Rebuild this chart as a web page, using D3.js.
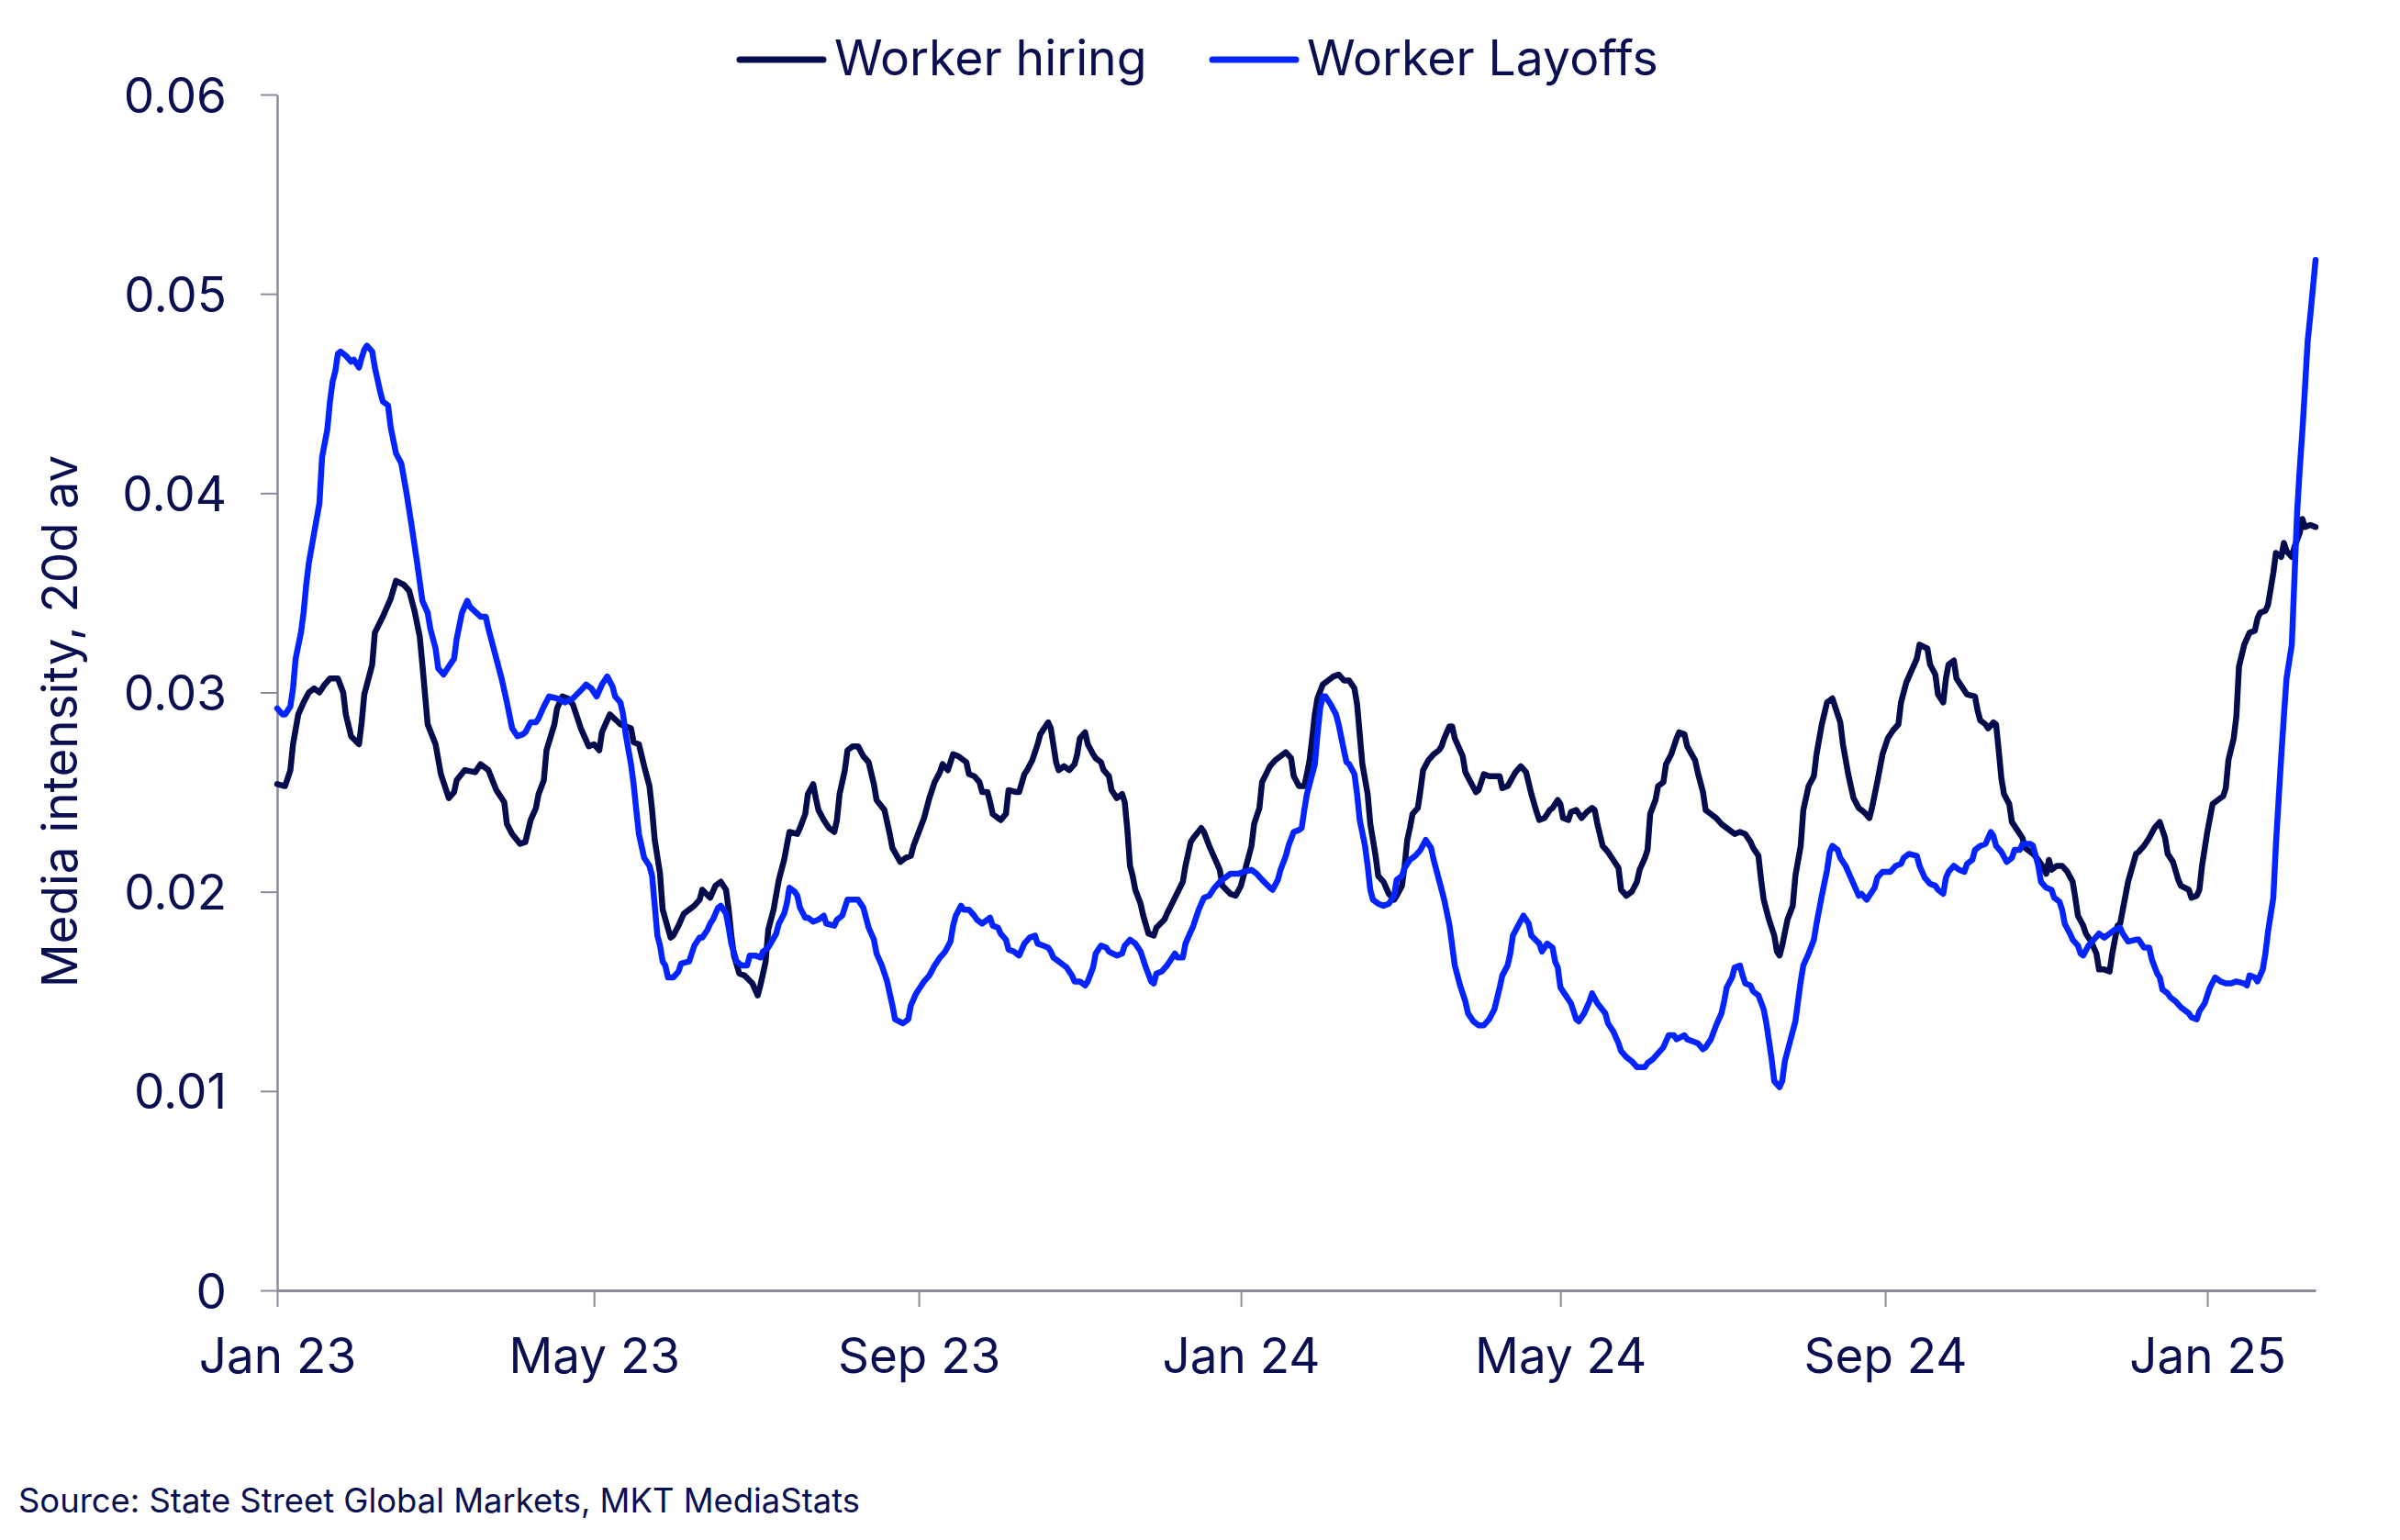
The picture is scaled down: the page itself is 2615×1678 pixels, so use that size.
<!DOCTYPE html>
<html>
<head>
<meta charset="utf-8">
<script src="https://cdn.jsdelivr.net/npm/d3@7"></script>
<style>
  html, body { margin: 0; padding: 0; background: #ffffff; }
  svg { display: block; }
  text { font-family: Inter, "Noto Sans", "DejaVu Sans", sans-serif; }
</style>
</head>
<body>
<svg id="chart" width="2615" height="1678"></svg>
<script>
// ---------------- DATA ----------------
// Dates are stored as day offsets from BASE_DATE (1 Jan 2023).
const BASE_DATE = "2023-01-01";
const seriesNames = ["Worker hiring", "Worker Layoffs"];
const yTicks = [0, 0.01, 0.02, 0.03, 0.04, 0.05, 0.06];
const yTickLabels = ["0", "0.01", "0.02", "0.03", "0.04", "0.05", "0.06"];
const xTickDates = ["2023-01-01", "2023-05-01", "2023-09-01", "2024-01-01", "2024-05-01", "2024-09-01", "2025-01-01"];
const xTickLabels = ["Jan 23", "May 23", "Sep 23", "Jan 24", "May 24", "Sep 24", "Jan 25"];
const yAxisTitle = "Media intensity, 20d av";
const sourceNote = "Source: State Street Global Markets, MKT MediaStats";

const hiringDay = [
  0,3,5,6,8,10,12,14,16,18,
  20,23,25,26,28,31,32,33,36,37,
  40,43,45,48,50,52,54,55,57,60,
  62,65,67,68,71,75,77,80,83,86,
  87,89,92,94,96,98,99,101,102,105,
  106,108,110,112,115,118,120,122,123,126,
  130,134,135,137,139,141,142,143,145,146,
  149,150,152,154,158,160,161,164,166,168,
  170,171,172,173,175,177,180,182,183,185,
  186,188,190,192,193,194,197,198,200,201,
  203,204,205,207,209,211,212,213,215,216,
  218,220,222,224,226,227,230,232,233,236,
  238,240,241,243,245,247,249,251,252,254,
  256,258,261,262,264,266,267,269,270,271,
  273,274,276,277,280,281,283,284,286,288,
  289,292,293,295,296,298,300,302,303,304,
  306,307,309,310,312,313,315,316,318,320,
  321,322,323,324,325,327,328,330,332,333,
  336,337,340,343,344,346,347,350,351,353,
  354,357,358,361,363,365,367,369,370,372,
  373,376,378,380,382,384,385,387,389,390,
  391,392,393,394,396,398,400,402,404,406,
  408,409,410,411,413,414,416,417,419,421,
  423,424,426,427,428,429,430,432,433,434,
  436,438,440,441,442,444,445,446,448,449,
  450,452,454,455,457,459,463,464,466,469,
  471,473,475,477,478,480,482,483,485,486,
  487,489,490,492,493,494,496,498,499,500,
  502,504,506,508,509,511,513,515,516,518,
  519,520,522,523,525,526,528,530,531,533,
  534,537,538,540,541,543,545,547,550,552,
  554,556,558,559,561,562,563,565,567,568,
  569,570,572,574,575,577,578,580,582,583,
  585,587,589,592,593,595,597,599,601,603,
  604,606,608,610,612,614,615,617,619,621,
  622,625,626,628,629,631,632,633,635,636,
  638,640,643,644,645,647,648,650,651,652,
  653,654,656,657,659,661,662,665,667,669,
  670,671,672,674,676,678,680,681,682,684,
  685,687,689,690,692,694,695,697,698,699,
  701,704,705,707,709,711,713,715,716,718,
  720,721,724,725,727,728,729,731,732,733,
  735,737,738,739,741,742,743,745,747,749,
  750,751,753,754,756,757,759,760,761,763,
  764,766,767,768,770,772
];
const hiringValue = [
  0.0254,0.0253,0.0261,0.0274,0.0289,0.0295,0.0300,0.0302,0.0300,0.0304,
  0.0307,0.0307,0.0300,0.0289,0.0278,0.0274,0.0285,0.0299,0.0314,0.0330,
  0.0338,0.0347,0.0356,0.0354,0.0351,0.0341,0.0328,0.0314,0.0284,0.0274,
  0.0259,0.0247,0.0250,0.0256,0.0261,0.0260,0.0264,0.0261,0.0251,0.0245,
  0.0234,0.0229,0.0224,0.0225,0.0236,0.0242,0.0249,0.0256,0.0271,0.0284,
  0.0292,0.0298,0.0297,0.0294,0.0282,0.0273,0.0274,0.0271,0.0280,0.0289,
  0.0284,0.0282,0.0275,0.0274,0.0263,0.0253,0.0241,0.0226,0.0209,0.0191,
  0.0177,0.0178,0.0183,0.0189,0.0193,0.0196,0.0201,0.0197,0.0203,0.0205,
  0.0201,0.0191,0.0178,0.0168,0.0159,0.0158,0.0154,0.0148,0.0153,0.0165,
  0.0181,0.0191,0.0206,0.0216,0.0223,0.0230,0.0229,0.0232,0.0239,0.0249,
  0.0254,0.0247,0.0241,0.0236,0.0232,0.0230,0.0236,0.0249,0.0261,0.0271,
  0.0273,0.0273,0.0268,0.0265,0.0254,0.0246,0.0241,0.0229,0.0222,0.0215,
  0.0217,0.0218,0.0223,0.0230,0.0237,0.0247,0.0255,0.0260,0.0264,0.0261,
  0.0269,0.0268,0.0265,0.0259,0.0258,0.0255,0.0250,0.0250,0.0245,0.0239,
  0.0237,0.0236,0.0239,0.0251,0.0250,0.0250,0.0259,0.0261,0.0266,0.0274,
  0.0279,0.0285,0.0282,0.0265,0.0261,0.0263,0.0261,0.0264,0.0269,0.0277,
  0.0280,0.0274,0.0269,0.0267,0.0265,0.0261,0.0258,0.0251,0.0247,0.0249,
  0.0245,0.0231,0.0213,0.0208,0.0201,0.0194,0.0188,0.0179,0.0178,0.0182,
  0.0186,0.0189,0.0197,0.0205,0.0213,0.0225,0.0227,0.0232,0.0230,0.0223,
  0.0220,0.0211,0.0203,0.0199,0.0198,0.0203,0.0213,0.0223,0.0234,0.0242,
  0.0255,0.0263,0.0266,0.0268,0.0270,0.0267,0.0258,0.0253,0.0253,0.0259,
  0.0266,0.0277,0.0289,0.0297,0.0304,0.0306,0.0308,0.0309,0.0306,0.0306,
  0.0302,0.0294,0.0279,0.0264,0.0249,0.0234,0.0218,0.0208,0.0205,0.0199,
  0.0196,0.0198,0.0203,0.0213,0.0226,0.0232,0.0239,0.0242,0.0251,0.0261,
  0.0266,0.0269,0.0271,0.0273,0.0277,0.0283,0.0283,0.0277,0.0271,0.0268,
  0.0260,0.0255,0.0250,0.0251,0.0259,0.0258,0.0258,0.0252,0.0253,0.0260,
  0.0263,0.0260,0.0249,0.0240,0.0236,0.0237,0.0241,0.0242,0.0246,0.0244,
  0.0237,0.0236,0.0240,0.0241,0.0239,0.0237,0.0240,0.0242,0.0241,0.0234,
  0.0223,0.0220,0.0216,0.0212,0.0201,0.0198,0.0200,0.0205,0.0211,0.0217,
  0.0221,0.0239,0.0246,0.0253,0.0255,0.0264,0.0269,0.0277,0.0280,0.0279,
  0.0273,0.0266,0.0260,0.0250,0.0241,0.0239,0.0237,0.0234,0.0231,0.0229,
  0.0230,0.0229,0.0225,0.0222,0.0218,0.0206,0.0196,0.0186,0.0178,0.0170,
  0.0168,0.0173,0.0186,0.0193,0.0208,0.0223,0.0241,0.0253,0.0258,0.0269,
  0.0284,0.0295,0.0297,0.0285,0.0274,0.0259,0.0247,0.0242,0.0240,0.0237,
  0.0242,0.0255,0.0269,0.0277,0.0281,0.0284,0.0295,0.0305,0.0311,0.0317,
  0.0324,0.0322,0.0314,0.0309,0.0299,0.0295,0.0307,0.0314,0.0316,0.0307,
  0.0303,0.0299,0.0298,0.0291,0.0286,0.0284,0.0282,0.0285,0.0284,0.0271,
  0.0257,0.0249,0.0244,0.0235,0.0231,0.0227,0.0222,0.0219,0.0216,0.0212,
  0.0209,0.0216,0.0211,0.0213,0.0213,0.0210,0.0205,0.0197,0.0188,0.0183,
  0.0179,0.0175,0.0169,0.0161,0.0161,0.0160,0.0169,0.0183,0.0184,0.0191,
  0.0205,0.0219,0.0220,0.0223,0.0227,0.0232,0.0235,0.0227,0.0219,0.0215,
  0.0206,0.0203,0.0201,0.0197,0.0198,0.0201,0.0213,0.0230,0.0237,0.0244,
  0.0246,0.0248,0.0252,0.0266,0.0277,0.0288,0.0313,0.0324,0.0330,0.0331,
  0.0337,0.0340,0.0341,0.0344,0.0360,0.0370,0.0368,0.0375,0.0371,0.0368,
  0.0373,0.0380,0.0387,0.0383,0.0384,0.0383
];

const layoffDay = [
  0,2,3,5,6,7,9,10,11,12,
  14,16,17,19,20,21,22,23,24,26,
  28,29,31,32,33,34,36,37,38,39,
  40,42,43,45,47,49,51,53,55,57,
  58,60,61,63,65,67,68,70,72,73,
  77,79,80,83,85,87,89,91,93,94,
  96,98,99,101,103,106,109,112,115,117,
  119,121,123,125,127,128,130,131,132,134,
  135,136,137,139,141,142,143,144,145,146,
  147,148,150,152,153,156,157,158,160,161,
  163,164,165,167,168,170,171,172,174,176,
  178,179,181,183,184,186,189,190,192,193,
  194,196,197,198,200,201,203,205,207,208,
  211,212,214,216,218,220,222,224,226,227,
  229,231,233,234,237,239,240,242,244,245,
  247,249,251,253,255,256,257,259,260,262,
  264,265,267,270,271,273,274,276,277,279,
  281,283,285,287,288,290,292,293,294,296,
  298,299,301,302,304,306,307,309,310,312,
  314,315,318,320,321,323,325,327,329,331,
  332,333,335,337,338,340,341,343,344,347,
  349,351,353,355,357,359,361,364,366,369,
  371,373,376,377,379,380,382,383,385,387,
  388,389,390,391,393,394,395,396,397,399,
  401,402,404,405,406,408,409,410,412,413,
  414,415,417,419,421,423,424,426,427,429,
  431,433,435,437,438,440,442,444,445,446,
  448,450,451,453,455,457,459,461,463,464,
  466,467,468,470,472,474,475,478,479,481,
  483,484,485,486,488,490,492,493,495,497,
  498,500,503,504,506,508,509,511,513,515,
  518,519,521,523,525,526,527,529,530,533,
  534,536,538,540,541,543,545,547,548,549,
  551,552,554,555,556,558,559,561,563,564,
  565,566,567,569,570,571,573,575,576,577,
  578,580,582,583,585,587,588,589,591,592,
  594,596,598,599,600,602,603,605,606,608,
  610,611,613,615,616,618,621,622,624,626,
  628,629,631,632,633,635,637,639,640,642,
  643,645,647,648,649,650,651,653,655,657,
  658,660,661,664,665,667,668,670,672,673,
  675,676,677,679,680,682,683,684,686,688,
  690,692,694,696,698,699,701,704,705,707,
  709,710,712,713,714,716,717,719,721,724,
  725,727,728,730,731,732,734,736,738,740,
  742,745,746,747,749,750,751,752,753,754,
  756,757,758,759,760,761,763,764,765,766,
  767,768,769,770,772
];
const layoffValue = [
  0.0292,0.0289,0.0289,0.0293,0.0302,0.0317,0.0330,0.0340,0.0354,0.0365,
  0.0380,0.0395,0.0418,0.0432,0.0446,0.0456,0.0461,0.0470,0.0471,0.0469,
  0.0466,0.0467,0.0463,0.0468,0.0472,0.0474,0.0471,0.0463,0.0457,0.0451,
  0.0446,0.0444,0.0433,0.0420,0.0415,0.0400,0.0383,0.0365,0.0346,0.0340,
  0.0332,0.0322,0.0312,0.0309,0.0313,0.0317,0.0327,0.0340,0.0346,0.0343,
  0.0338,0.0338,0.0332,0.0317,0.0307,0.0295,0.0282,0.0278,0.0279,0.0280,
  0.0285,0.0285,0.0287,0.0293,0.0298,0.0297,0.0295,0.0297,0.0301,0.0304,
  0.0302,0.0298,0.0304,0.0308,0.0303,0.0298,0.0295,0.0289,0.0279,0.0264,
  0.0254,0.0241,0.0229,0.0217,0.0213,0.0208,0.0193,0.0178,0.0173,0.0165,
  0.0163,0.0157,0.0157,0.0160,0.0164,0.0165,0.0169,0.0173,0.0177,0.0177,
  0.0181,0.0184,0.0186,0.0192,0.0193,0.0189,0.0182,0.0174,0.0165,0.0163,
  0.0163,0.0168,0.0168,0.0167,0.0170,0.0172,0.0179,0.0184,0.0189,0.0194,
  0.0202,0.0200,0.0198,0.0192,0.0187,0.0187,0.0185,0.0186,0.0188,0.0184,
  0.0183,0.0186,0.0188,0.0196,0.0196,0.0196,0.0192,0.0182,0.0176,0.0169,
  0.0163,0.0155,0.0143,0.0136,0.0134,0.0136,0.0143,0.0149,0.0153,0.0155,
  0.0158,0.0163,0.0167,0.0170,0.0175,0.0183,0.0188,0.0193,0.0191,0.0191,
  0.0188,0.0186,0.0184,0.0187,0.0183,0.0182,0.0179,0.0176,0.0171,0.0170,
  0.0168,0.0174,0.0177,0.0178,0.0174,0.0173,0.0172,0.0170,0.0167,0.0165,
  0.0163,0.0162,0.0158,0.0155,0.0155,0.0153,0.0155,0.0162,0.0169,0.0173,
  0.0172,0.0170,0.0168,0.0169,0.0173,0.0176,0.0174,0.0170,0.0162,0.0155,
  0.0154,0.0159,0.0160,0.0163,0.0165,0.0169,0.0167,0.0167,0.0174,0.0183,
  0.0191,0.0197,0.0198,0.0202,0.0205,0.0207,0.0209,0.0209,0.0210,0.0211,
  0.0209,0.0206,0.0202,0.0201,0.0206,0.0211,0.0218,0.0223,0.0230,0.0231,
  0.0232,0.0241,0.0249,0.0254,0.0264,0.0279,0.0292,0.0298,0.0298,0.0294,
  0.0289,0.0284,0.0271,0.0265,0.0264,0.0259,0.0249,0.0236,0.0223,0.0213,
  0.0201,0.0196,0.0194,0.0193,0.0194,0.0198,0.0206,0.0208,0.0212,0.0216,
  0.0218,0.0221,0.0226,0.0222,0.0216,0.0206,0.0196,0.0183,0.0173,0.0163,
  0.0153,0.0145,0.0139,0.0135,0.0133,0.0133,0.0136,0.0141,0.0152,0.0158,
  0.0163,0.0169,0.0178,0.0183,0.0188,0.0184,0.0178,0.0174,0.0170,0.0174,
  0.0172,0.0165,0.0162,0.0152,0.0148,0.0144,0.0136,0.0135,0.0139,0.0145,
  0.0149,0.0144,0.0139,0.0134,0.0130,0.0124,0.0120,0.0117,0.0115,0.0112,
  0.0112,0.0114,0.0116,0.0119,0.0122,0.0125,0.0128,0.0128,0.0126,0.0128,
  0.0126,0.0125,0.0124,0.0121,0.0122,0.0126,0.0133,0.0139,0.0145,0.0152,
  0.0157,0.0162,0.0163,0.0158,0.0154,0.0153,0.0150,0.0148,0.0141,0.0134,
  0.0125,0.0116,0.0105,0.0102,0.0105,0.0115,0.0125,0.0135,0.0145,0.0155,
  0.0163,0.0169,0.0176,0.0184,0.0198,0.0211,0.0220,0.0223,0.0221,0.0217,
  0.0213,0.0207,0.0201,0.0198,0.0199,0.0196,0.0198,0.0202,0.0207,0.0210,
  0.0210,0.0210,0.0213,0.0214,0.0217,0.0219,0.0218,0.0213,0.0207,0.0204,
  0.0203,0.0201,0.0199,0.0207,0.0210,0.0213,0.0211,0.0210,0.0214,0.0216,
  0.0221,0.0223,0.0224,0.0227,0.0230,0.0228,0.0223,0.0220,0.0215,0.0217,
  0.0221,0.0221,0.0224,0.0224,0.0223,0.0213,0.0205,0.0202,0.0201,0.0197,
  0.0195,0.0191,0.0184,0.0179,0.0176,0.0173,0.0169,0.0168,0.0173,0.0176,
  0.0179,0.0177,0.0179,0.0181,0.0182,0.0179,0.0175,0.0176,0.0176,0.0172,
  0.0172,0.0166,0.0159,0.0157,0.0151,0.0149,0.0147,0.0145,0.0142,0.0139,
  0.0137,0.0136,0.0140,0.0144,0.0148,0.0152,0.0157,0.0155,0.0154,0.0154,
  0.0155,0.0154,0.0153,0.0158,0.0157,0.0155,0.0158,0.0161,0.0169,0.0180,
  0.0197,0.0224,0.0246,0.0268,0.0288,0.0307,0.0324,0.0357,0.0390,0.0412,
  0.0431,0.0453,0.0476,0.0489,0.0517
];

// ---------------- STYLE ----------------
const COLORS = ["#050c4d", "#0424ff"];
const TEXT_COLOR = "#0a0f52";
const AXIS_COLOR = "#8a8c9a";

// ---------------- CHART ----------------
const parse = d3.utcParse("%Y-%m-%d");
const base = parse(BASE_DATE);
const toDate = n => d3.utcDay.offset(base, n);

const series = [
  { name: seriesNames[0], color: COLORS[0], points: hiringDay.map((d, i) => ({ date: toDate(d), value: hiringValue[i] })) },
  { name: seriesNames[1], color: COLORS[1], points: layoffDay.map((d, i) => ({ date: toDate(d), value: layoffValue[i] })) }
];

const lastDay = Math.max(d3.max(hiringDay), d3.max(layoffDay));
const margin = { left: 302, right: 2523, top: 103, bottom: 1406 };

const x = d3.scaleUtc()
  .domain([base, toDate(lastDay)])
  .range([margin.left, margin.right]);

const y = d3.scaleLinear()
  .domain([0, 0.06])
  .range([margin.bottom, margin.top]);

const svg = d3.select("#chart");
svg.append("rect").attr("width", 2615).attr("height", 1678).attr("fill", "#ffffff");

// Y axis
const yAxis = svg.append("g")
  .attr("transform", `translate(${margin.left},0)`)
  .call(d3.axisLeft(y).tickValues(yTicks).tickFormat((d, i) => yTickLabels[i]).tickSize(18).tickSizeOuter(0));
yAxis.select(".domain").attr("stroke", AXIS_COLOR).attr("stroke-width", 2.5);
yAxis.selectAll(".tick line").attr("stroke", AXIS_COLOR).attr("stroke-width", 2);
yAxis.selectAll(".tick text")
  .attr("x", -55).attr("dy", "0.36em")
  .attr("fill", TEXT_COLOR).attr("font-size", 53).attr("font-family", "Inter, 'Noto Sans', sans-serif");

// X axis
const xAxis = svg.append("g")
  .attr("transform", `translate(0,${margin.bottom})`)
  .call(d3.axisBottom(x).tickValues(xTickDates.map(parse)).tickFormat((d, i) => xTickLabels[i]).tickSize(18).tickSizeOuter(0));
xAxis.select(".domain").attr("stroke", AXIS_COLOR).attr("stroke-width", 3);
xAxis.selectAll(".tick line").attr("stroke", AXIS_COLOR).attr("stroke-width", 2);
xAxis.selectAll(".tick text")
  .attr("y", 90).attr("dy", 0)
  .attr("fill", TEXT_COLOR).attr("font-size", 53).attr("font-family", "Inter, 'Noto Sans', sans-serif");

// Lines
const line = d3.line()
  .x(d => x(d.date))
  .y(d => y(d.value))
  .curve(d3.curveLinear);

svg.append("g").selectAll("path.series")
  .data(series)
  .join("path")
  .attr("class", "series")
  .attr("d", d => line(d.points))
  .attr("fill", "none")
  .attr("stroke", d => d.color)
  .attr("stroke-width", 6.5)
  .attr("stroke-linejoin", "round")
  .attr("stroke-linecap", "round");

// Legend
const legendPos = [806, 1321];
const legend = svg.append("g").selectAll("g")
  .data(series)
  .join("g")
  .attr("transform", (d, i) => `translate(${legendPos[i]},65)`);
legend.append("line")
  .attr("x1", 0).attr("x2", 91).attr("y1", 0).attr("y2", 0)
  .attr("stroke", d => d.color).attr("stroke-width", 7).attr("stroke-linecap", "round");
legend.append("text")
  .attr("x", 103).attr("y", 17)
  .attr("fill", TEXT_COLOR).attr("font-size", 53.5)
  .text(d => d.name);

// Y axis title
svg.append("text")
  .attr("transform", "translate(84,786) rotate(-90)")
  .attr("text-anchor", "middle")
  .attr("fill", TEXT_COLOR).attr("font-size", 53)
  .text(yAxisTitle);

// Source
svg.append("text")
  .attr("x", 20).attr("y", 1648)
  .attr("fill", TEXT_COLOR).attr("font-size", 36.4)
  .text(sourceNote);
</script>
</body>
</html>
